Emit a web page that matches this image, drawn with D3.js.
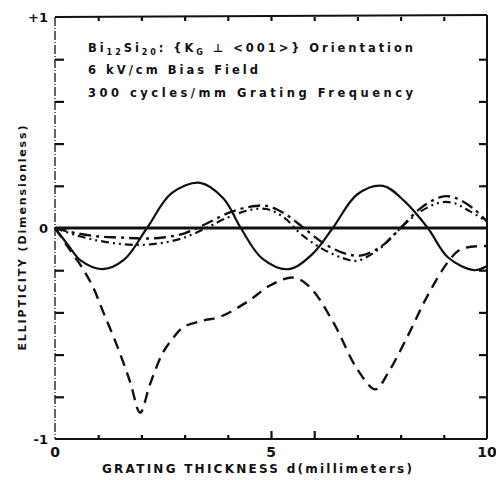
<!DOCTYPE html>
<html><head><meta charset="utf-8">
<script src="https://cdn.jsdelivr.net/npm/d3@7"></script>
<style>
html,body{margin:0;padding:0;background:#fff;}
svg{display:block;}
text{font-family:"DejaVu Sans",sans-serif;font-weight:bold;fill:#111;}
</style></head>
<body>
<svg id="chart" width="496" height="480"></svg>
<script>
// ---- data ----
const xTicks = [0, 5, 10];
const yTickLabels = ["+1", "0", "-1"];
const yTickValues = [1, 0, -1];
const zeroLine = [[0, 0], [10, 0]];
const solidCurve = [[0,0],[0.3,-0.08],[0.6,-0.155],[1.1,-0.195],[1.6,-0.15],[2.13,0],[2.7,0.165],[3.36,0.214],[3.9,0.14],[4.3,0],[4.8,-0.145],[5.41,-0.195],[5.95,-0.125],[6.43,0],[7.0,0.16],[7.59,0.2],[8.1,0.125],[8.63,0],[9.1,-0.14],[9.7,-0.2],[10,-0.18]];
const dashedCurve = [[0,0],[0.3,-0.09],[0.65,-0.195],[0.88,-0.28],[1.12,-0.4],[1.44,-0.56],[1.74,-0.73],[1.97,-0.875],[2.2,-0.74],[2.5,-0.59],[2.74,-0.52],[2.97,-0.47],[3.4,-0.44],[3.83,-0.42],[4.45,-0.35],[5.0,-0.27],[5.52,-0.235],[5.9,-0.28],[6.45,-0.45],[7.0,-0.67],[7.42,-0.765],[7.7,-0.69],[8.17,-0.51],[8.6,-0.33],[9.1,-0.16],[9.4,-0.1],[10,-0.085]];
const dashDotCurve = [[0,0],[0.5,-0.025],[1,-0.04],[1.5,-0.045],[2,-0.05],[2.5,-0.045],[3,-0.025],[3.5,0.02],[4,0.07],[4.5,0.1],[4.9,0.105],[5.3,0.07],[5.7,0.01],[6.2,-0.07],[6.7,-0.12],[7.1,-0.13],[7.6,-0.08],[8.0,0],[8.5,0.1],[9.0,0.15],[9.3,0.14],[9.7,0.09],[10,0.03]];
const dashDotDotCurve = [[0,0],[0.5,-0.035],[1,-0.06],[1.5,-0.075],[2,-0.08],[2.5,-0.07],[3,-0.045],[3.5,0.0],[4,0.05],[4.5,0.085],[4.9,0.09],[5.3,0.05],[5.7,-0.03],[6.2,-0.1],[6.7,-0.145],[7.0,-0.155],[7.5,-0.1],[7.9,-0.02],[8.4,0.07],[8.9,0.12],[9.2,0.12],[9.6,0.08],[10,0.03]];
const notes = ["6 kV/cm  Bias Field", "300 cycles/mm  Grating Frequency"];
const xTitle = "GRATING THICKNESS  d(millimeters)";
const yTitle = "ELLIPTICITY  (Dimensionless)";

// ---- layout ----
const svg = d3.select("#chart");
const L = 55, R = 487, T = 17, B = 439;
const x = d3.scaleLinear().domain([0, 10]).range([L, R]);
const y = d3.scaleLinear().domain([-1, 1]).range([B, T]);

// frame
svg.append("line").attr("x1", L).attr("x2", R).attr("y1", T).attr("y2", T - 2).attr("stroke", "#111").attr("stroke-width", 2);
svg.append("line").attr("x1", R).attr("x2", R).attr("y1", T - 2).attr("y2", B).attr("stroke", "#111").attr("stroke-width", 2);
svg.append("line").attr("x1", L).attr("x2", R).attr("y1", B).attr("y2", B).attr("stroke", "#111").attr("stroke-width", 2);
svg.append("line").attr("x1", L).attr("x2", L).attr("y1", T).attr("y2", B).attr("stroke", "#111").attr("stroke-width", 1.3).attr("stroke-dasharray", "9,2,1,2");

// axes ticks
const yMinor = [-0.8, -0.6, -0.4, -0.2, 0.2, 0.4, 0.6, 0.8];
const gl = svg.append("g").attr("transform", `translate(${L},0)`)
  .call(d3.axisLeft(y).tickValues(yMinor).tickSize(-9).tickFormat(""));
const gr = svg.append("g").attr("transform", `translate(${R},0)`)
  .call(d3.axisRight(y).tickValues(yMinor).tickSize(-8).tickFormat(""));
const gb = svg.append("g").attr("transform", `translate(0,${B})`)
  .call(d3.axisBottom(x).tickValues(d3.range(1, 10)).tickSize(-4).tickFormat(""));
const gt = svg.append("g").attr("transform", `translate(0,${T})`)
  .call(d3.axisTop(x).tickValues(d3.range(1, 10)).tickSize(-4).tickFormat(""));
[gl, gr, gb, gt].forEach(g => {
  g.select(".domain").remove();
  g.selectAll(".tick line").attr("stroke", "#111").attr("stroke-width", 2.2);
});
gb.selectAll(".tick line").attr("y2", d => (d === 5 || d === 6) ? -8 : -4);

// tick labels
svg.selectAll(".xl").data(xTicks).enter().append("text")
  .attr("x", d => x(d)).attr("y", 457).attr("text-anchor", "middle")
  .attr("font-size", 14).text(d => d);
svg.selectAll(".yl").data(yTickValues).enter().append("text")
  .attr("x", 48).attr("y", d => y(d) + 5).attr("text-anchor", "end")
  .attr("font-size", 13).text((d, i) => yTickLabels[i]);

// titles
svg.append("text").attr("x", 257).attr("y", 473).attr("text-anchor", "middle")
  .attr("font-size", 12).attr("textLength", 310).attr("lengthAdjust", "spacing").text(xTitle);
svg.append("text").attr("transform", "translate(26,238) rotate(-90)").attr("text-anchor", "middle")
  .attr("font-size", 11).attr("textLength", 225).attr("lengthAdjust", "spacing").text(yTitle);

// annotations
const t1 = svg.append("text").attr("x", 88).attr("y", 52).attr("font-size", 11.5);
t1.append("tspan").text("Bi");
t1.append("tspan").attr("font-size", 8).attr("dy", 3).text("12");
t1.append("tspan").attr("dy", -3).text("Si");
t1.append("tspan").attr("font-size", 8).attr("dy", 3).text("20");
t1.append("tspan").attr("dy", -3).text(": {K");
t1.append("tspan").attr("font-size", 8).attr("dy", 3).text("G");
t1.append("tspan").attr("dy", -3).text(" \u22A5 <001>}  Orientation");
t1.attr("textLength", 325).attr("lengthAdjust", "spacing");
svg.selectAll(".note").data(notes).enter().append("text")
  .attr("x", 88).attr("y", (d, i) => 74 + i * 23).attr("font-size", 11.5)
  .attr("textLength", (d, i) => i === 0 ? 170 : 325).attr("lengthAdjust", "spacing")
  .text(d => d);

// curves
const line = d3.line().x(d => x(d[0])).y(d => y(d[1])).curve(d3.curveCatmullRom.alpha(0.5));
svg.append("path").datum(zeroLine).attr("d", d3.line().x(d => x(d[0])).y(d => y(d[1])))
  .attr("fill", "none").attr("stroke", "#111").attr("stroke-width", 3);
svg.append("path").datum(solidCurve).attr("d", line)
  .attr("fill", "none").attr("stroke", "#111").attr("stroke-width", 2.2);
svg.append("path").datum(dashedCurve).attr("d", line)
  .attr("fill", "none").attr("stroke", "#111").attr("stroke-width", 2.4).attr("stroke-dasharray", "11,7");
svg.append("path").datum(dashDotCurve).attr("d", line)
  .attr("fill", "none").attr("stroke", "#111").attr("stroke-width", 2.4).attr("stroke-dasharray", "12,5,3,5");
svg.append("path").datum(dashDotDotCurve).attr("d", line)
  .attr("fill", "none").attr("stroke", "#111").attr("stroke-width", 2.2).attr("stroke-dasharray", "8,4,2,4,2,4");
</script>
</body></html>
